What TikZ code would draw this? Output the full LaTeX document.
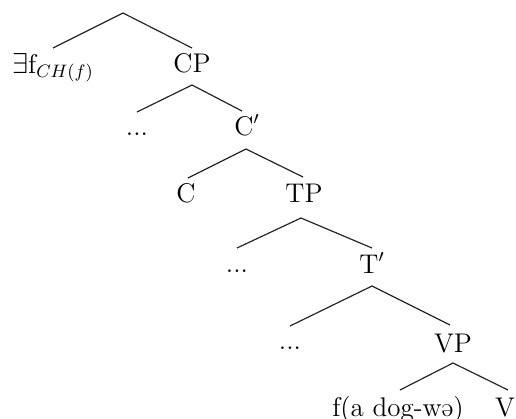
\documentclass[tikz,border=0pt]{standalone}
\usepackage{graphicx}
\newcommand{\myschwa}{\iffontchar\font"0259 ^^^^0259\else\rotatebox[origin=c]{180}{e}\fi}
\begin{document}
\begin{tikzpicture}[x=0.5pt,y=-0.5pt,
  lbl/.style={anchor=base,inner sep=0pt,font=\fontsize{13.5}{16}\selectfont},
  branch/.style={draw=black!85,line width=0.6pt}]
\useasboundingbox (0,0) rectangle (516,419);
% labels
\node[lbl] (ex) at (53,73) {$\exists$f$_{CH(f)}$};
\node[lbl] (cp) at (192,72) {CP};
\node[lbl] (d1) at (137,135) {...};
\node[lbl] (cbar) at (247,135) {C$'$};
\node[lbl] (c) at (186,202) {C};
\node[lbl] (tp) at (304,202) {TP};
\node[lbl] (d2) at (237,272) {...};
\node[lbl] (tbar) at (372,273) {T$'$};
\node[lbl] (d3) at (290,349) {...};
\node[lbl] (vp) at (453,352) {VP};
\node[lbl] (f) at (398,416) {f(a dog-w\myschwa)};
\node[lbl] (v) at (505,416) {V};
% apexes and branch ends
\coordinate (a0) at (123,13); \coordinate (a0l) at (53,48); \coordinate (a0r) at (192,48);
\coordinate (a1) at (192,85); \coordinate (a1l) at (137,112); \coordinate (a1r) at (242,111);
\coordinate (a2) at (246,149); \coordinate (a2l) at (188,178); \coordinate (a2r) at (303,177);
\coordinate (a3) at (301,218); \coordinate (a3l) at (237,248); \coordinate (a3r) at (372,248);
\coordinate (a4) at (372,286); \coordinate (a4l) at (290,326); \coordinate (a4r) at (450,325);
\coordinate (a5) at (453,363); \coordinate (a5l) at (400,390); \coordinate (a5r) at (508,390);
\draw[branch] (a0l) -- (a0) -- (a0r);
\draw[branch] (a1l) -- (a1) -- (a1r);
\draw[branch] (a2l) -- (a2) -- (a2r);
\draw[branch] (a3l) -- (a3) -- (a3r);
\draw[branch] (a4l) -- (a4) -- (a4r);
\draw[branch] (a5l) -- (a5) -- (a5r);
\end{tikzpicture}
\end{document}
